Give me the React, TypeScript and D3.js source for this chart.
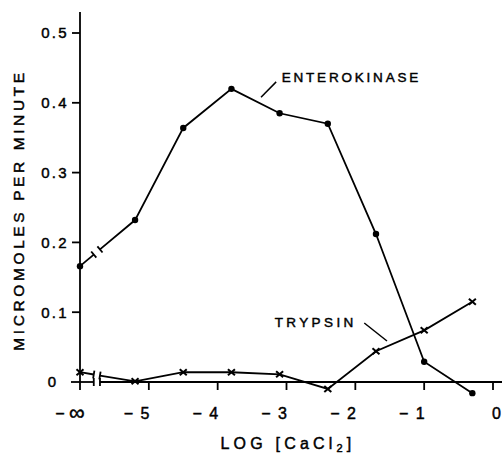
import React from "react";
import * as d3 from "d3";

// log [CaCl2]; -Infinity is the "no calcium" point drawn at the axis origin
const logCaCl2 = [-Infinity, -5.2, -4.5, -3.8, -3.1, -2.4, -1.7, -1.0, -0.3];
const enterokinase = [0.166, 0.232, 0.364, 0.42, 0.385, 0.37, 0.212, 0.029, -0.016];
const trypsin = [0.014, 0.001, 0.014, 0.014, 0.011, -0.01, 0.044, 0.074, 0.115];

const xTicks = [-5, -4, -3, -2, -1, 0];
const xTickLabels = ["− 5", "− 4", "− 3", "− 2", "− 1", "0"];
const yTicks = [0.1, 0.2, 0.3, 0.4, 0.5];

const NEG_INF_POS = -6;
const BREAK = [-5.8, -5.71];

const FONT = "'Liberation Sans', Arial, sans-serif";

export default function App() {
  const width = 502;
  const height = 458;

  const xScale = d3.scaleLinear().domain([-6, 0]).range([80, 493]);
  const yScale = d3.scaleLinear().domain([0, 0.5]).range([382, 33]);

  const xPos = (v: number) => xScale(v === -Infinity ? NEG_INF_POS : v);

  const lineGen = d3
    .line<[number, number]>()
    .x((d) => xScale(d[0]))
    .y((d) => yScale(d[1]));

  // splits the first segment at the axis break and returns path + caps
  const seriesPaths = (values: number[], key: string) => {
    const pts: [number, number][] = values.map((v, i) => [
      logCaCl2[i] === -Infinity ? NEG_INF_POS : logCaCl2[i],
      v,
    ]);
    const [p0, p1] = pts;
    const interp = (x: number): [number, number] => [
      x,
      p0[1] + ((x - p0[0]) / (p1[0] - p0[0])) * (p1[1] - p0[1]),
    ];
    const a = interp(BREAK[0]);
    const b = interp(BREAK[1]);
    const dx = xScale(p1[0]) - xScale(p0[0]);
    const dy = yScale(p1[1]) - yScale(p0[1]);
    const len = Math.sqrt(dx * dx + dy * dy);
    const nx = (-dy / len) * 4;
    const ny = (dx / len) * 4;
    const caps = [a, b].map((p, i) => (
      <line
        key={key + "cap" + i}
        x1={xScale(p[0]) - nx}
        y1={yScale(p[1]) - ny}
        x2={xScale(p[0]) + nx}
        y2={yScale(p[1]) + ny}
        stroke="#000"
        strokeWidth={1.8}
      />
    ));
    return (
      <g key={key}>
        <path d={lineGen([p0, a]) ?? ""} fill="none" stroke="#000" strokeWidth={1.8} />
        <path d={lineGen([b, ...pts.slice(1)]) ?? ""} fill="none" stroke="#000" strokeWidth={1.8} />
        {caps}
      </g>
    );
  };

  const dots = enterokinase.map((v, i) => (
    <circle key={"d" + i} cx={xPos(logCaCl2[i])} cy={yScale(v)} r={3.2} fill="#000" />
  ));

  const crosses = trypsin.map((v, i) => {
    const cx = xPos(logCaCl2[i]);
    const cy = yScale(v);
    return (
      <g key={"x" + i} stroke="#000" strokeWidth={2}>
        <line x1={cx - 3.5} y1={cy - 3} x2={cx + 3.5} y2={cy + 3} />
        <line x1={cx - 3.5} y1={cy + 3} x2={cx + 3.5} y2={cy - 3} />
      </g>
    );
  });

  const y0 = yScale(0);
  const bx0 = xScale(BREAK[0]);
  const bx1 = xScale(BREAK[1]);
  const textStroke = { stroke: "#000", strokeWidth: 0.45 };

  return (
    <div style={{ position: "absolute", left: 0, top: 0 }}>
      <svg width={width} height={height} style={{ display: "block", background: "#fff" }}>
        <g fontFamily={FONT} fill="#000">
          {/* y axis */}
          <line x1={xScale(-6)} y1={12} x2={xScale(-6)} y2={y0 + 8} stroke="#000" strokeWidth={1.8} />
          {yTicks.map((t) => (
            <g key={"yt" + t}>
              <line x1={72} x2={xScale(-6)} y1={yScale(t)} y2={yScale(t)} stroke="#000" strokeWidth={1.8} />
              <text x={55} y={yScale(t)} dy="0.36em" textAnchor="middle" fontSize={15} letterSpacing={2.2} {...textStroke}>
                {t.toFixed(1)}
              </text>
            </g>
          ))}
          <text x={52} y={y0} dy="0.36em" textAnchor="middle" fontSize={15} {...textStroke}>
            0
          </text>

          {/* x axis with break */}
          <line x1={71} x2={bx0} y1={y0} y2={y0} stroke="#000" strokeWidth={1.8} />
          <line x1={bx1} x2={width} y1={y0} y2={y0} stroke="#000" strokeWidth={1.8} />
          {[bx0, bx1].map((bx, i) => (
            <line key={"ab" + i} x1={bx} x2={bx} y1={y0 - 4} y2={y0 + 4} stroke="#000" strokeWidth={1.8} />
          ))}
          {xTicks.map((t, i) => (
            <g key={"xt" + t}>
              <line x1={xScale(t)} x2={xScale(t)} y1={y0} y2={y0 + 8} stroke="#000" strokeWidth={1.8} />
              <text
                x={t === 0 ? xScale(t) - 1 : xScale(t) + 2}
                y={419}
                textAnchor={t === 0 ? "start" : "end"}
                fontSize={16}
                letterSpacing={1.5}
                {...textStroke}
              >
                {xTickLabels[i]}
              </text>
            </g>
          ))}
          <text x={xScale(NEG_INF_POS) - 10} y={419} textAnchor="middle" fontSize={16} {...textStroke}>
            −{" "}
            <tspan fontSize={22} dy={1}>∞</tspan>
          </text>

          {/* axis titles */}
          <text x={288} y={449} textAnchor="middle" fontSize={16} letterSpacing={4.2} {...textStroke}>
            LOG [CaCl
            <tspan fontSize={11} dy={3}>2</tspan>
            <tspan dy={-3}>]</tspan>
          </text>
          <text
            transform="translate(24,210) rotate(-90)"
            textAnchor="middle"
            fontSize={15.5}
            letterSpacing={3.6}
            {...textStroke}
          >
            MICROMOLES PER MINUTE
          </text>

          {/* series */}
          {seriesPaths(enterokinase, "ek")}
          {seriesPaths(trypsin, "tr")}
          {dots}
          {crosses}

          {/* labels with leader lines */}
          <line x1={xScale(-3.37)} y1={yScale(0.408)} x2={xScale(-3.15)} y2={yScale(0.43)} stroke="#000" strokeWidth={1.5} />
          <text x={xScale(-3.07)} y={yScale(0.43)} fontSize={13.5} letterSpacing={2.8} {...textStroke}>
            ENTEROKINASE
          </text>
          <line x1={xScale(-1.87)} y1={yScale(0.0845)} x2={xScale(-1.54)} y2={yScale(0.0587)} stroke="#000" strokeWidth={1.5} />
          <text x={xScale(-1.98)} y={yScale(0.079)} textAnchor="end" fontSize={13.5} letterSpacing={3.4} {...textStroke}>
            TRYPSIN
          </text>
        </g>
      </svg>
    </div>
  );
}
